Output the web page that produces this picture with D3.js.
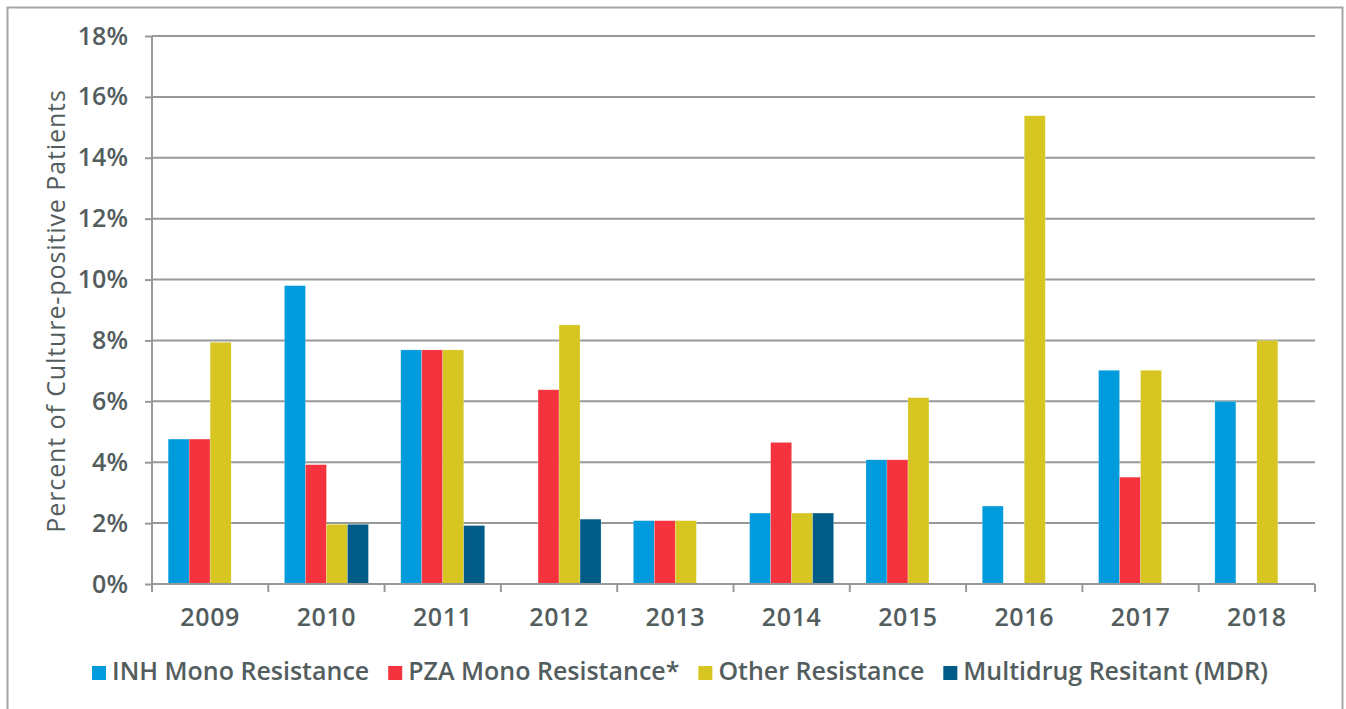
<!DOCTYPE html>
<html>
<head>
<meta charset="utf-8">
<script src="https://cdn.jsdelivr.net/npm/d3@7"></script>
<style>
  html, body { margin: 0; padding: 0; background: #ffffff; }
  svg { display: block; }
  text { font-family: "Open Sans", "DejaVu Sans", sans-serif; fill: #535d5e; }
</style>
</head>
<body>
<svg id="chart" width="1346" height="709"></svg>
<script>
// Drug resistance among culture-positive patients, by year
const years = ["2009", "2010", "2011", "2012", "2013", "2014", "2015", "2016", "2017", "2018"];
const seriesNames = ["INH Mono Resistance", "PZA Mono Resistance*", "Other Resistance", "Multidrug Resitant (MDR)"];
const seriesColors = ["#009bdc", "#f5333f", "#d7c622", "#005b86"];

const inhMono  = [4.76, 9.80, 7.69, 0,    2.08, 2.33, 4.08, 2.56, 7.02, 6.00];
const pzaMono  = [4.76, 3.92, 7.69, 6.38, 2.08, 4.65, 4.08, 0,    3.51, 0];
const otherRes = [7.94, 1.96, 7.69, 8.51, 2.08, 2.33, 6.12, 15.38, 7.02, 8.00];
const mdr      = [0,    1.96, 1.92, 2.13, 0,    2.33, 0,    0,    0,    0];

const yTickValues = [0, 2, 4, 6, 8, 10, 12, 14, 16, 18];
const yTickLabels = ["0%", "2%", "4%", "6%", "8%", "10%", "12%", "14%", "16%", "18%"];
const yTitle = "Percent of Culture-positive Patients";

const seriesValues = [inhMono, pzaMono, otherRes, mdr];
const rows = years.map((yr, i) => ({
  year: yr,
  values: seriesNames.map((s, k) => ({ key: s, color: seriesColors[k], value: seriesValues[k][i] }))
}));

const svg = d3.select("#chart");
const gridColor = "#979999";
const fontSize = 25;

// outer frame
svg.append("rect")
  .attr("x", 7.5).attr("y", 7.5).attr("width", 1335).attr("height", 720)
  .attr("fill", "none").attr("stroke", "#a3a5a5").attr("stroke-width", 2);

const plotLeft = 152, plotRight = 1315, plotTop = 36, plotBottom = 584;

const x0 = d3.scaleBand().domain(years).range([plotLeft, plotRight]).padding(0);
const bw = x0.bandwidth();
const x1 = d3.scaleBand().domain(seriesNames).range([bw * 0.139, bw * 0.861]).padding(0);
const y = d3.scaleLinear().domain([0, 18]).range([plotBottom, plotTop]);

// horizontal gridlines
svg.append("g")
  .selectAll("line")
  .data(yTickValues)
  .join("line")
  .attr("x1", plotLeft).attr("x2", plotRight)
  .attr("y1", d => y(d)).attr("y2", d => y(d))
  .attr("stroke", gridColor).attr("stroke-width", 2);

// bars
const groups = svg.append("g")
  .selectAll("g")
  .data(rows)
  .join("g")
  .attr("transform", d => `translate(${x0(d.year)},0)`);

groups.selectAll("rect")
  .data(d => d.values.filter(v => v.value > 0))
  .join("rect")
  .attr("x", d => x1(d.key))
  .attr("width", x1.bandwidth())
  .attr("y", d => y(d.value))
  .attr("height", d => y(0) - y(d.value))
  .attr("fill", d => d.color)
  .attr("stroke", "#ffffff").attr("stroke-opacity", 0.35).attr("stroke-width", 0.6);

// y axis
const yAxis = svg.append("g")
  .attr("transform", `translate(${plotLeft},0)`)
  .call(d3.axisLeft(y).tickValues(yTickValues).tickFormat((d, i) => yTickLabels[i]).tickSize(7).tickPadding(17).tickSizeOuter(0));
yAxis.select(".domain").remove();
yAxis.selectAll(".tick line").attr("stroke", gridColor).attr("stroke-width", 2);
yAxis.selectAll(".tick text")
  .attr("font-size", fontSize).attr("font-weight", 600)
  .style("font-family", "'Open Sans', sans-serif").attr("fill", "#535d5e");

// vertical axis line
svg.append("line")
  .attr("x1", plotLeft).attr("x2", plotLeft).attr("y1", plotTop).attr("y2", plotBottom + 8)
  .attr("stroke", gridColor).attr("stroke-width", 2);

// x axis with ticks at category boundaries
const xAxis = svg.append("g").attr("transform", `translate(0,${plotBottom})`);
xAxis.append("line")
  .attr("x1", plotLeft).attr("x2", plotRight).attr("y1", 0).attr("y2", 0)
  .attr("stroke", gridColor).attr("stroke-width", 2);
xAxis.selectAll("line.boundary")
  .data(years.map(yr => x0(yr)).concat([x0(years[years.length - 1]) + bw]))
  .join("line")
  .attr("class", "boundary")
  .attr("x1", d => d).attr("x2", d => d).attr("y1", 0).attr("y2", 8)
  .attr("stroke", gridColor).attr("stroke-width", 2);
xAxis.selectAll("text")
  .data(years)
  .join("text")
  .attr("x", d => x0(d) + bw / 2)
  .attr("y", 42)
  .attr("text-anchor", "middle")
  .attr("font-size", fontSize).attr("font-weight", 600)
  .attr("letter-spacing", 0.6)
  .text(d => d);

// y axis title
svg.append("text")
  .attr("transform", `translate(65,${(plotTop + plotBottom) / 2 + 1}) rotate(-90)`)
  .attr("text-anchor", "middle")
  .attr("font-size", fontSize).attr("font-weight", 500)
  .attr("letter-spacing", 0.9)
  .text(yTitle);

// legend
const legend = svg.append("g");
let cursor = 0;
seriesNames.forEach((name, k) => {
  const item = legend.append("g").attr("transform", `translate(${cursor},0)`);
  item.append("rect").attr("x", 0).attr("y", -14).attr("width", 14).attr("height", 14).attr("fill", seriesColors[k]);
  const t = item.append("text").attr("x", 20).attr("y", 0)
    .attr("font-size", fontSize).attr("font-weight", 600).text(name);
  cursor += 20 + t.node().getComputedTextLength() + 19;
});
const legendWidth = cursor - 19;
legend.attr("transform", `translate(${680 - legendWidth / 2},680)`);
</script>
</body>
</html>
